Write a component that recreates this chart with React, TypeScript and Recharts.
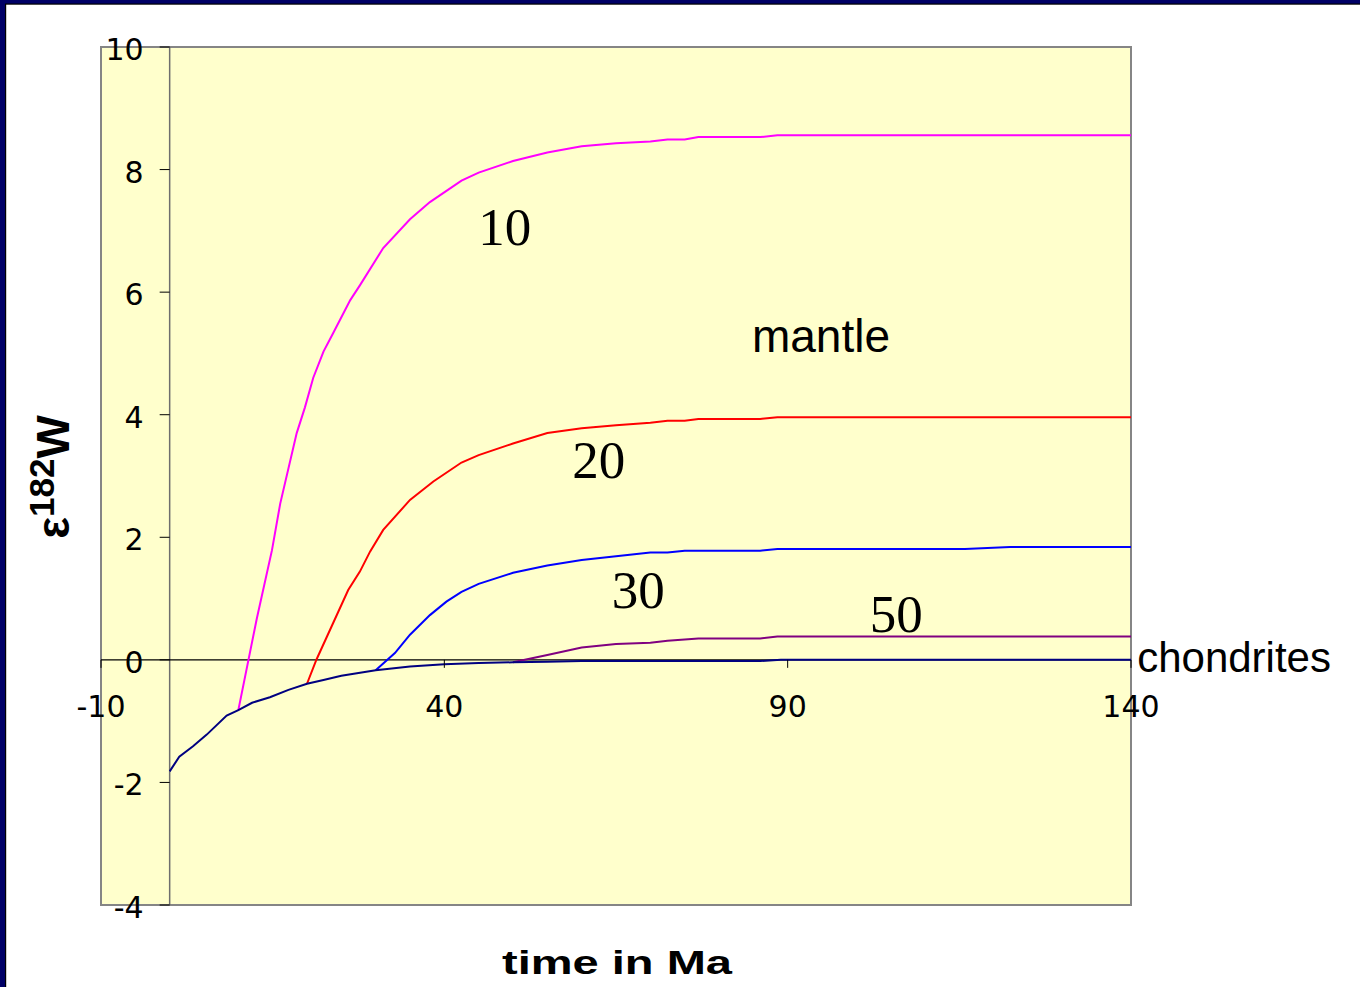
import React from 'react';
import {
  LineChart,
  Line,
  XAxis,
  YAxis,
  ReferenceArea,
  ReferenceLine,
  ReferenceDot,
} from 'recharts';

// Axis ranges and tick values
const X_DOMAIN: [number, number] = [-10, 140];
const Y_DOMAIN: [number, number] = [-4, 10];
const X_TICKS = [-10, 40, 90, 140];
const Y_TICKS = [-4, -2, 0, 2, 4, 6, 8, 10];

// Chondritic reservoir (time in Ma, epsilon 182W)
const CHONDRITE_T = [0, 1.4, 3.4, 5.4, 8.3, 10, 12, 14.6, 17.3, 20, 22.4, 25, 30, 35, 40, 45, 50, 55, 60, 70, 86, 89, 140];
const CHONDRITE_E = [-1.82, -1.58, -1.41, -1.22, -0.91, -0.82, -0.7, -0.61, -0.49, -0.39, -0.33, -0.26, -0.17, -0.11, -0.07, -0.05, -0.04, -0.03, -0.02, -0.02, -0.02, 0, 0];

// Mantle evolution for core formation at 10 Ma
const MANTLE10_T = [10, 12.7, 14.9, 16.1, 18.5, 19.7, 20.9, 22.4, 23.8, 26.3, 27.7, 31.1, 35, 37.9, 42.5, 45, 50, 55, 60, 65, 70, 72.5, 75, 77, 86, 88.5, 140];
const MANTLE10_E = [-0.82, 0.68, 1.79, 2.55, 3.7, 4.12, 4.6, 5.03, 5.33, 5.87, 6.11, 6.72, 7.19, 7.47, 7.82, 7.95, 8.14, 8.28, 8.38, 8.43, 8.46, 8.49, 8.49, 8.53, 8.53, 8.56, 8.56];

// Mantle evolution for core formation at 20 Ma
const MANTLE20_T = [20, 21.4, 26, 27.7, 29.2, 31.1, 35, 38.4, 42.5, 45, 50, 55, 60, 65, 70, 72.5, 75, 77, 86, 88.5, 140];
const MANTLE20_E = [-0.39, 0.01, 1.14, 1.44, 1.77, 2.12, 2.61, 2.91, 3.22, 3.34, 3.53, 3.7, 3.78, 3.83, 3.87, 3.9, 3.9, 3.93, 3.93, 3.96, 3.96];

// Mantle evolution for core formation at 30 Ma
const MANTLE30_T = [30, 32.8, 35, 37.9, 40.3, 42.5, 45, 50, 55, 60, 65, 70, 72.5, 75, 86, 88.5, 115.8, 122.4, 140];
const MANTLE30_E = [-0.17, 0.11, 0.41, 0.73, 0.95, 1.11, 1.24, 1.42, 1.54, 1.63, 1.69, 1.75, 1.75, 1.78, 1.78, 1.81, 1.81, 1.84, 1.84];

// Mantle evolution for core formation at 50 Ma
const MANTLE50_T = [50, 55, 60, 65, 70, 72.5, 77, 86, 88.5, 140];
const MANTLE50_E = [-0.04, 0.08, 0.2, 0.26, 0.28, 0.31, 0.35, 0.35, 0.38, 0.38];

// Curve annotations (anchored at text baseline centre, in data units)
const CURVE_LABELS = ['10', '20', '30', '50'];
const CURVE_LABEL_X = [48.8, 62.5, 68.25, 105.8];
const CURVE_LABEL_Y = [6.77, 2.96, 0.84, 0.46];

const toPoints = (t: number[], e: number[]) => t.map((x, i) => ({ x, y: e[i] }));

const SERIES = [
  { key: 'm10', t: MANTLE10_T, e: MANTLE10_E, color: '#FF00FF' },
  { key: 'm20', t: MANTLE20_T, e: MANTLE20_E, color: '#FF0000' },
  { key: 'm30', t: MANTLE30_T, e: MANTLE30_E, color: '#0000FF' },
  { key: 'm50', t: MANTLE50_T, e: MANTLE50_E, color: '#800080' },
  { key: 'chon', t: CHONDRITE_T, e: CHONDRITE_E, color: '#000080' },
];

const W = 1360;
const H = 987;
const MARGIN = { top: 47, left: 101, right: W - 1131, bottom: H - 905 };

const TICK_FONT = '"DejaVu Sans", Verdana, sans-serif';
const SANS = '"Liberation Sans", Arial, sans-serif';
const SERIF = '"Liberation Serif", "Times New Roman", serif';

const xTickShape = (value: number) => (props: any) => (
  <g>
    <line x1={props.cx} x2={props.cx} y1={props.cy} y2={props.cy + 8} stroke="#000" strokeWidth={1} />
    <text x={props.cx} y={props.cy + 57} textAnchor="middle" fontFamily={TICK_FONT} fontSize={30} fill="#000">
      {value}
    </text>
  </g>
);

const yTickShape = (value: number) => (props: any) => (
  <g>
    <line x1={props.cx - 10} x2={props.cx} y1={props.cy} y2={props.cy} stroke="#000" strokeWidth={1} />
    <text x={props.cx - 26} y={props.cy + 13} textAnchor="end" fontFamily={TICK_FONT} fontSize={30} fill="#000">
      {value}
    </text>
  </g>
);

const textShape = (value: string, family: string, size: number, anchor: 'start' | 'middle' | 'end') => (props: any) => (
  <text x={props.cx} y={props.cy} textAnchor={anchor} fontFamily={family} fontSize={size} fill="#000">
    {value}
  </text>
);

export default function App() {
  return (
    <div style={{ position: 'absolute', left: 0, top: 0, width: W, height: H, background: '#fff', overflow: 'hidden' }}>
      <LineChart width={W} height={H} margin={MARGIN}>
        <XAxis type="number" dataKey="x" domain={X_DOMAIN} ticks={X_TICKS} hide allowDataOverflow />
        <YAxis type="number" dataKey="y" domain={Y_DOMAIN} ticks={Y_TICKS} hide allowDataOverflow />
        <ReferenceArea x1={X_DOMAIN[0]} x2={X_DOMAIN[1]} y1={Y_DOMAIN[0]} y2={Y_DOMAIN[1]} fill="#FFFFCC" fillOpacity={1} stroke="#858585" strokeWidth={2} ifOverflow="visible" />
        <ReferenceLine x={0} stroke="#6e6e6e" strokeWidth={1.5} />
        <ReferenceLine y={0} stroke="#000" strokeWidth={1.2} />
        {X_TICKS.map((t) => (
          <ReferenceDot key={'xt' + t} x={t} y={0} r={0} ifOverflow="visible" shape={xTickShape(t)} />
        ))}
        {Y_TICKS.map((t) => (
          <ReferenceDot key={'yt' + t} x={0} y={t} r={0} ifOverflow="visible" shape={yTickShape(t)} />
        ))}
        {SERIES.map((s) => (
          <Line
            key={s.key}
            data={toPoints(s.t, s.e)}
            dataKey="y"
            type="linear"
            stroke={s.color}
            strokeWidth={2}
            dot={false}
            activeDot={false}
            isAnimationActive={false}
          />
        ))}
        {CURVE_LABELS.map((l, i) => (
          <ReferenceDot key={'cl' + l} x={CURVE_LABEL_X[i]} y={CURVE_LABEL_Y[i]} r={0} ifOverflow="visible" shape={textShape(l, SERIF, 53, 'middle')} />
        ))}
        <ReferenceDot x={94.85} y={5.02} r={0} ifOverflow="visible" shape={textShape('mantle', SANS, 46, 'middle')} />
        <ReferenceDot x={140.9} y={-0.2} r={0} ifOverflow="visible" shape={textShape('chondrites', SANS, 42, 'start')} />
      </LineChart>
      <svg width={W} height={H} style={{ position: 'absolute', left: 0, top: 0, pointerEvents: 'none' }}>
        <rect x={0} y={0} width={W} height={4} fill="#000066" />
        <rect x={0} y={3.5} width={W} height={1.2} fill="#000" />
        <rect x={0} y={0} width={6} height={H} fill="#000066" />
        <rect x={5} y={3.5} width={1.2} height={H} fill="#000" />
        <text
          x={617}
          y={974}
          textAnchor="middle"
          fontFamily={SANS}
          fontWeight="bold"
          fontSize={33}
          textLength={230}
          lengthAdjust="spacingAndGlyphs"
          fill="#000"
        >
          time in Ma
        </text>
        <text x={0} y={0} transform="translate(69 477) rotate(-90)" textAnchor="middle" fontFamily={SANS} fontWeight="bold" fontSize={46} fill="#000">
          <tspan>ε</tspan>
          <tspan fontSize={35} dy={-15}>182</tspan>
          <tspan dy={15}>W</tspan>
        </text>
      </svg>
    </div>
  );
}
